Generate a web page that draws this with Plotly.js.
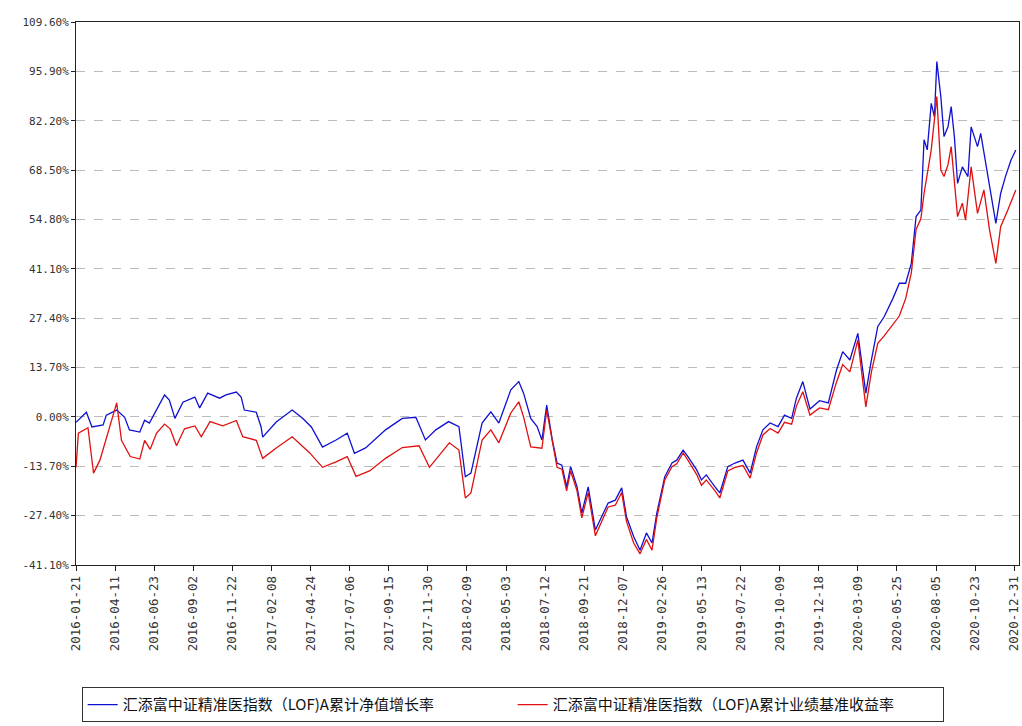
<!DOCTYPE html>
<html>
<head>
<meta charset="utf-8">
<script src="https://cdn.plot.ly/plotly-3.0.1.min.js"></script>
<style>body{margin:0;background:#fff}</style>
</head>
<body>
<div id="chart" style="width:1022px;height:726px"></div>
<script>
// x = trading-day index, tick labels every 49 days
var tickLabels = ['2016-01-21','2016-04-11','2016-06-23','2016-09-02','2016-11-22','2017-02-08','2017-04-24','2017-07-06','2017-09-15','2017-11-30','2018-02-09','2018-05-03','2018-07-12','2018-09-21','2018-12-07','2019-02-26','2019-05-13','2019-07-22','2019-10-09','2019-12-18','2020-03-09','2020-05-25','2020-08-05','2020-10-23','2020-12-31'];
var tickPos = [0,49,98,147,196,245,294,343,392,441,490,539,588,637,686,735,784,833,882,931,980,1029,1078,1127,1176];

var navX = [0,1,13,20,34,38,51,61,67,80,86,92,101,111,117,124,134,149,155,165,180,188,201,207,211,226,232,234,251,271,284,295,309,326,340,349,363,388,409,426,438,451,467,480,488,495,509,520,530,545,555,561,570,578,584,590,597,603,609,615,620,628,634,642,651,659,667,676,684,690,699,707,715,722,728,738,747,753,761,767,778,784,790,801,807,817,826,836,845,853,861,870,880,888,897,903,911,920,932,943,953,961,970,980,990,997,1005,1013,1024,1032,1040,1047,1053,1059,1063,1067,1072,1076,1079,1084,1088,1093,1097,1101,1105,1111,1118,1122,1130,1134,1143,1149,1153,1159,1165,1172,1178];
var navY = [-1.5,-1.3,1.3,-2.8,-2.2,0.5,1.9,-0.1,-3.6,-4.2,-0.9,-1.7,1.9,6.1,4.7,-0.4,4.1,5.5,2.5,6.6,5.2,6.1,6.9,5.5,1.9,1.3,-2.8,-5.6,-1.4,1.9,-0.4,-2.8,-8.4,-6.4,-4.5,-10.1,-8.6,-3.6,-0.4,-0.1,-6.4,-3.6,-1.3,-2.7,-16.6,-15.6,-1.7,1.4,-1.7,7.5,9.8,6.6,-0.4,-2.7,-6.4,3.3,-6.4,-12.8,-13.4,-19.4,-13.8,-19.4,-26.7,-19.4,-31.4,-27.7,-23.9,-23.1,-19.7,-27.7,-33.2,-37,-32.2,-35,-26.7,-16.6,-12.8,-12,-9.2,-11,-14.7,-17.5,-16.1,-19.4,-21.1,-13.8,-12.8,-12,-15.6,-8.3,-3.6,-1.7,-2.7,0.5,-0.4,5.2,9.8,2.2,4.5,3.9,12.8,18.1,15.8,23.2,6.6,15.8,25.1,27.8,32.9,37.1,37.1,42.6,55.6,57.4,76.9,74.1,87,83.3,98.6,88.9,77.8,80.5,86.1,77.8,64.8,69.4,66.7,80.5,75,78.7,66.7,59.3,53.7,62,66.7,71.3,74.1];

var bmX = [0,3,15,22,30,38,47,51,57,68,80,86,93,101,111,118,126,136,149,157,168,184,201,209,226,234,251,271,293,309,326,340,351,368,388,409,430,443,468,480,488,495,509,520,530,545,555,561,570,584,590,597,603,609,615,620,628,634,642,651,659,667,676,684,690,699,707,715,722,728,738,747,753,761,767,778,784,790,801,807,817,826,836,845,853,861,870,880,888,897,903,911,920,932,943,953,961,970,980,990,997,1005,1013,1024,1032,1040,1047,1053,1059,1063,1067,1072,1079,1084,1088,1093,1097,1101,1105,1111,1115,1122,1130,1138,1145,1153,1159,1168,1178];
var bmY = [-14,-4.5,-3,-15.6,-12,-6,1,3.9,-6.5,-11,-11.7,-6.5,-9,-4.5,-2,-3.3,-8,-3.3,-2.5,-5.5,-1.3,-2.5,-1,-5.5,-6.5,-11.5,-8.6,-5.5,-10,-14,-12.5,-11,-16.5,-15,-11.5,-8.5,-8,-14,-7.2,-9.2,-22.5,-21.1,-6.4,-3.6,-7.2,1.1,4.2,0,-8.3,-8.7,1.9,-7,-14,-14.5,-20.5,-15,-20.5,-28,-21,-33,-29,-25,-24.5,-21,-29,-35,-38,-34,-37,-28,-17.5,-13.8,-13,-10,-12,-16,-19,-17.5,-20.5,-22.5,-15,-14,-13.5,-17,-10,-5,-3.2,-4.5,-1.5,-2,3,7,0.5,2.5,2,9.5,14.5,12.5,21.3,2.8,12.5,20.4,22.5,25.5,28,32.9,40,52,55,62,68,74.1,88.9,68.5,66.7,70,75,65,55.6,59.3,54.6,69.4,56.5,63,52,42.6,52.8,57.4,63];

var yTicks = [-41.1,-27.4,-13.7,0,13.7,27.4,41.1,54.8,68.5,82.2,95.9,109.6];
var yText = yTicks.map(function(v){ return v.toFixed(2) + '%'; });

var navTrace = {x: navX, y: navY, type: 'scatter', mode: 'lines',
  name: '汇添富中证精准医指数（LOF)A累计净值增长率', line: {color: '#1010d0', width: 1.3}};
var bmTrace = {x: bmX, y: bmY, type: 'scatter', mode: 'lines',
  name: '汇添富中证精准医指数（LOF)A累计业绩基准收益率', line: {color: '#e01010', width: 1.3}};

var layout = {
  width: 1022, height: 726,
  margin: {l: 76, r: 3, t: 22, b: 161},
  paper_bgcolor: '#fff', plot_bgcolor: '#fff',
  font: {family: 'DejaVu Sans Mono, monospace', size: 11, color: '#333'},
  showlegend: true,
  legend: {orientation: 'h', x: 0.006, xref: 'paper', xanchor: 'left', yref: 'container', y: 0.005, yanchor: 'bottom',
    bordercolor: '#333', borderwidth: 1, entrywidth: 385, entrywidthmode: 'pixels',
    font: {family: 'Noto Sans CJK SC', size: 15, color: '#111'}},
  xaxis: {range: [0, 1182], tickvals: tickPos, ticktext: tickLabels, tickangle: -90, automargin: false,
    tickfont: {size: 12.5},
    showgrid: false, zeroline: false, showline: true, linecolor: '#222', mirror: true,
    ticks: 'outside', ticklen: 5, tickcolor: '#222'},
  yaxis: {range: [-41.1, 109.6], tickvals: yTicks, ticktext: yText, automargin: false,
    showgrid: true, gridcolor: '#bbb', griddash: 'dash', zeroline: false,
    showline: true, linecolor: '#222', mirror: true, ticks: 'outside', ticklen: 4, tickcolor: '#222'}
};

Plotly.newPlot('chart', [navTrace, bmTrace], layout, {displayModeBar: false});
</script>
</body>
</html>
